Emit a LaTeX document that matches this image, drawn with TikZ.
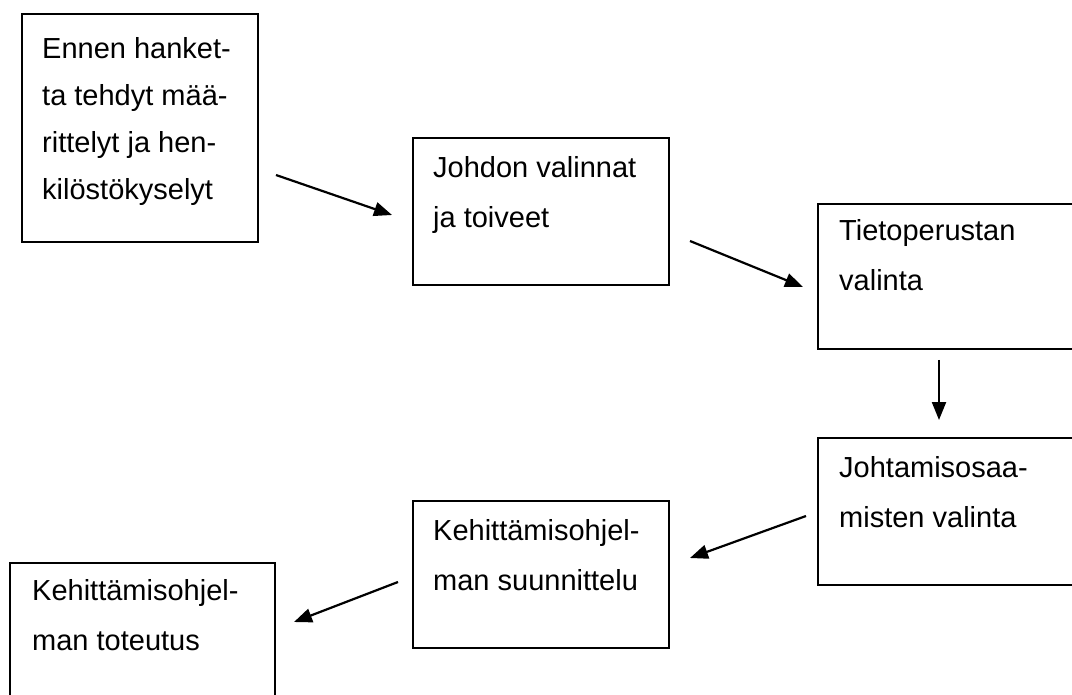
\documentclass[tikz,border=0pt]{standalone}
\usepackage{fontspec}
\setmainfont{Liberation Sans}
\usetikzlibrary{positioning,arrows.meta}

\tikzset{
  box/.style={draw, line width=2pt, anchor=north west, inner sep=0pt},
  boxtext/.style={inner sep=0pt, align=left, font=\fontsize{29}{50}\selectfont},
  arr/.style={line width=2.2pt, -{Triangle[length=18pt,width=14pt]}}
}

\begin{document}
\begin{tikzpicture}[x=1pt,y=1pt,yscale=-1,xscale=1]
\useasboundingbox (0,0) rectangle (1072,695);
\clip (0,0) rectangle (1072,695);

%Boxes
\node[box, minimum width=236pt, minimum height=228pt] (b1) at (21,13) {};
\node[box, minimum width=256pt, minimum height=147pt] (b2) at (412,137) {};
\node[box, minimum width=280pt, minimum height=145pt] (b3) at (817,203) {};
\node[box, minimum width=280pt, minimum height=147pt] (b4) at (817,437) {};
\node[box, minimum width=256pt, minimum height=147pt] (b5) at (412,500) {};
\node[box, minimum width=265pt, minimum height=160pt] (b6) at (9,562) {};

% Text Node
\node[boxtext, font=\fontsize{29}{47}\selectfont, below right=24pt and 21pt of b1.north west] (t1) {Ennen hanket-\\ta tehdyt mää-\\rittelyt ja hen-\\kilöstökyselyt};
% Text Node
\node[boxtext, below right=19pt and 21pt of b2.north west] (t2) {Johdon valinnat\\ja toiveet};
% Text Node
\node[boxtext, below right=16pt and 22pt of b3.north west] (t3) {Tietoperustan\\valinta};
% Text Node
\node[boxtext, below right=19pt and 22pt of b4.north west] (t4) {Johtamisosaa-\\misten valinta};
% Text Node
\node[boxtext, below right=19pt and 21pt of b5.north west] (t5) {Kehittämisohjel-\\man suunnittelu};
% Text Node
\node[boxtext, below right=17pt and 23pt of b6.north west] (t6) {Kehittämisohjel-\\man toteutus};

%Arrows
\draw[arr] ([shift={(17,-68)}]b1.south east) -- ([shift={(-20,78)}]b2.north west);
\draw[arr] ([shift={(20,-45)}]b2.south east) -- ([shift={(-14,84)}]b3.north west);
\draw[arr] ([shift={(122,10)}]b3.south west) -- ([shift={(122,-17)}]b4.north west);
\draw[arr] ([shift={(-11,79)}]b4.north west) -- ([shift={(20,58)}]b5.north east);
\draw[arr] ([shift={(-14,82)}]b5.north west) -- ([shift={(18,60)}]b6.north east);
\end{tikzpicture}
\end{document}
